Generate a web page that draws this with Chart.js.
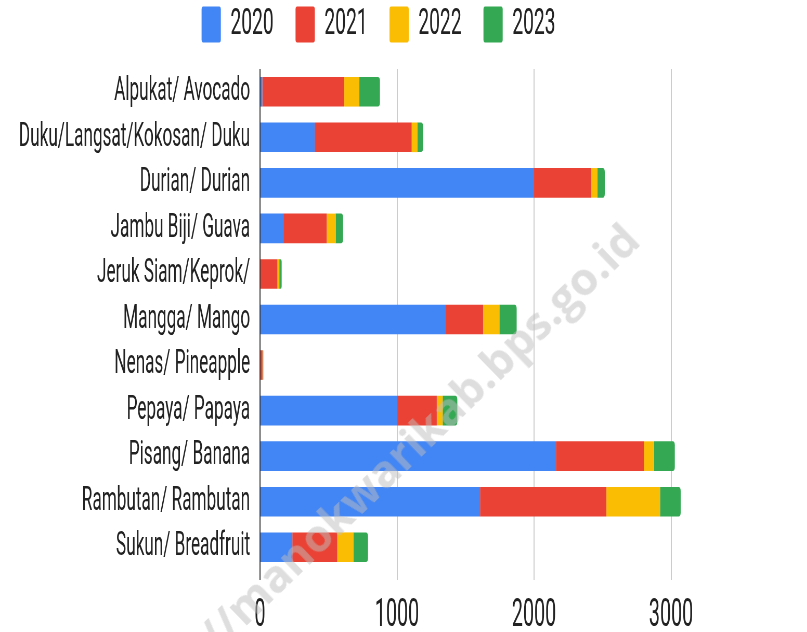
<!DOCTYPE html>
<html>
<head>
<meta charset="utf-8">
<script src="https://cdn.jsdelivr.net/npm/chart.js@4.4.0/dist/chart.umd.min.js"></script>
<style>
  html, body { margin: 0; padding: 0; overflow: hidden; background: #fff; }
  #page { position: relative; width: 807px; height: 632px; overflow: hidden; }
  /* the reference is squeezed sideways, so draw wide and compress */
  #squeeze { position: absolute; left: 0; top: 0; width: 1552px; height: 632px;
             transform: scaleX(0.52); transform-origin: 0 0; }
  #mark { position: absolute; right: 161px; bottom: 385px; white-space: nowrap;
          font: bold 45px "Open Sans", sans-serif; line-height: 1;
          color: rgba(190, 190, 190, 0.5); transform: rotate(-44deg);
          transform-origin: 100% 100%; pointer-events: none; }
</style>
</head>
<body>
<div id="page">
  <div id="squeeze"><canvas id="fruitChart"></canvas></div>
  <div id="mark">https://manokwarikab.bps.go.id</div>
</div>
<script>
const fruits = ['Alpukat/ Avocado', 'Duku/Langsat/Kokosan/ Duku', 'Durian/ Durian', 'Jambu Biji/ Guava',
  'Jeruk Siam/Keprok/', 'Mangga/ Mango', 'Nenas/ Pineapple', 'Pepaya/ Papaya', 'Pisang/ Banana',
  'Rambutan/ Rambutan', 'Sukun/ Breadfruit'];
const years = ['2020', '2021', '2022', '2023'];
const prod2020 = [17, 399, 2000, 170, 0, 1355, 0, 1000, 2160, 1606, 236];
const prod2021 = [598, 708, 418, 317, 127, 273, 18, 290, 643, 922, 328];
const prod2022 = [110, 41, 44, 65, 14, 119, 2, 43, 73, 392, 117];
const prod2023 = [150, 42, 54, 54, 17, 126, 4, 107, 151, 150, 107];
const xTicks = [0, 1000, 2000, 3000];

const colors = ['#4285F4', '#EA4335', '#FBBC04', '#34A853'];
const series = [prod2020, prod2021, prod2022, prod2023];

const ctx = document.getElementById('fruitChart');

const fruitChart = new Chart(ctx, {
    type: 'bar',
    data: {
        labels: fruits,
        datasets: series.map((vals, i) => ({
            label: years[i],
            data: vals,
            backgroundColor: colors[i],
            borderWidth: 0,
            borderRadius: 4,
            barPercentage: 0.65,
            categoryPercentage: 1
        }))
    },
    options: {
        indexAxis: 'y',
        responsive: true,
        maintainAspectRatio: false,
        animation: false,
        layout: {
            padding: { top: -36, right: 96, bottom: 0, left: 0 }
        },
        plugins: {
            legend: {
                position: 'top',
                labels: {
                    boxWidth: 37,
                    boxHeight: 36,
                    padding: 42,
                    useBorderRadius: true,
                    borderRadius: 3,
                    color: '#222',
                    font: { family: 'Roboto', size: 37 }
                }
            },
            tooltip: { enabled: false }
        },
        scales: {
            x: {
                stacked: true,
                min: 0,
                max: 3628,
                afterBuildTicks: axis => {
                    axis.ticks = xTicks.map(v => ({ value: v }));
                },
                afterFit: axis => { axis.height = 62; },
                grid: {
                    color: c => (c.tick && c.tick.value === 0 ? '#333' : '#ccc'),
                    lineWidth: 2,
                    tickLength: 10,
                    drawTicks: true
                },
                border: { display: false },
                ticks: {
                    padding: 14,
                    color: '#222',
                    font: { family: 'Roboto', size: 38 },
                    callback: v => String(v)
                }
            },
            spacer: {
                type: 'linear',
                position: 'top',
                axis: 'x',
                display: true,
                grid: { display: false, drawTicks: false },
                border: { display: false },
                ticks: { display: false },
                afterFit: axis => { axis.height = 16; }
            },
            y: {
                stacked: true,
                afterFit: axis => { axis.width = 500; },
                grid: { display: false, drawTicks: false },
                border: { display: false },
                ticks: {
                    padding: 19,
                    color: '#222',
                    font: { family: 'Roboto', size: 33 }
                }
            }
        }
    }
});
</script>
</body>
</html>
